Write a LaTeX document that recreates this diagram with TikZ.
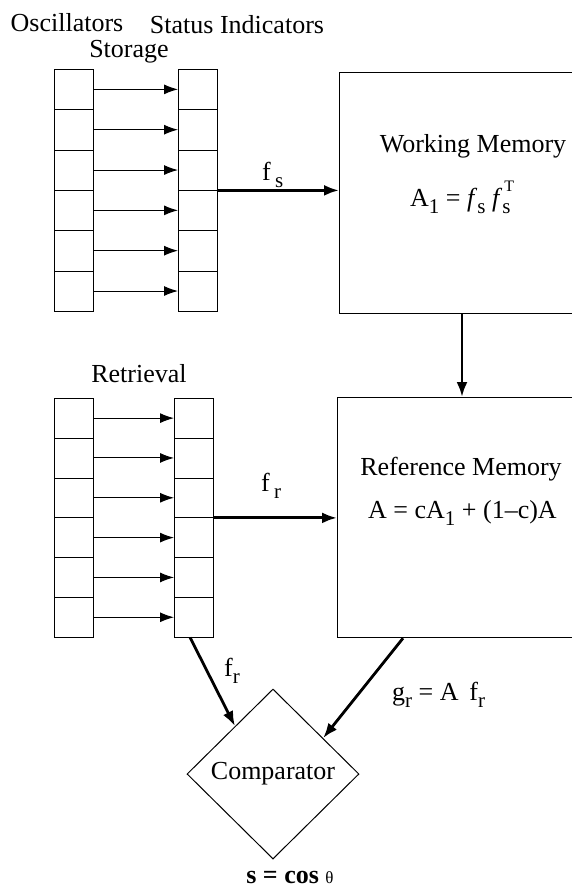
\documentclass[tikz,border=0pt]{standalone}
\usepackage{fontspec}
\setmainfont{Liberation Serif}
\usetikzlibrary{shapes.geometric,arrows.meta,calc}
\newcommand\lo[1]{\raisebox{-0.65ex}{\fontsize{21}{21}\selectfont #1}}
\newcommand\hi[1]{\raisebox{1.2ex}{\fontsize{16}{16}\selectfont #1}}
\begin{document}
\begin{tikzpicture}[x=1pt,y=-1pt,
  lbl/.style={font=\fontsize{26}{30}\selectfont, inner sep=0},
  cell/.style={draw=none, minimum width=39pt, inner sep=0, anchor=north west},
  thinarr/.style={line width=1pt, -{Latex[length=14pt,width=10pt]}},
  thickarr/.style={line width=2.8pt, -{Latex[length=15pt,width=11pt]}},
  colline/.style={line width=1pt},
  mem/.style={draw, line width=1.2pt, anchor=north west, inner sep=0}]
\useasboundingbox (0,0) rectangle (572,889);
\clip (0,0) rectangle (572,889);

% top columns
\foreach \i in {1,...,6} {
  \node[cell, minimum height=40.33pt] (os\i) at (54,{69+(\i-1)*40.33}) {};
  \node[cell, minimum height=40.33pt] (si\i) at (178,{69+(\i-1)*40.33}) {};
  \draw[thinarr] (os\i.east) -- (si\i.west);
}
% bottom columns
\foreach \i in {1,...,6} {
  \node[cell, minimum height=39.83pt] (rs\i) at (54,{398+(\i-1)*39.83}) {};
  \node[cell, minimum height=39.83pt] (ri\i) at (174,{398+(\i-1)*39.83}) {};
  \draw[thinarr] (rs\i.east) -- (ri\i.west);
}
\foreach \c in {os,si,rs,ri} {
  \draw[colline] (\c1.north west) rectangle (\c6.south east);
  \foreach \i in {1,...,5} { \draw[colline] (\c\i.south west) -- (\c\i.south east); }
}

% labels
\node[lbl, anchor=base] (losc) at (67,31) {Oscillators};
\node[lbl, anchor=base] (lstat) at (237,33) {Status Indicators};
\node[lbl, anchor=base] (lstor) at (129,57) {Storage};
\node[lbl, anchor=base] (lret) at (139,382) {Retrieval};

% memory boxes
\node[mem, minimum width=261pt, minimum height=241pt] (wm) at (339,72) {};
\node[mem, minimum width=263pt, minimum height=240pt] (rm) at (337,397) {};
\node[lbl, anchor=base] (wmt) at (473,152) {Working Memory};
\node[lbl, anchor=base west] (wmf) at (410,206) {A\lo{1} = \textit{f}\lo{s} \textit{f}\makebox[0pt][l]{\lo{s}}\hspace{2pt}\hi{T}};
\node[lbl, anchor=base] (rmt) at (461,475) {Reference Memory};
\node[lbl, anchor=base west] (rmf) at (368,518) {A = cA\lo{1} + (1–c)A};

% connectors
\draw[thickarr] (si3.south east) -- (si3.south east -| wm.west);
\node[lbl, anchor=base west] (lfs) at (262,180) {f\,\lo{s}};
\draw[thickarr] (ri3.south east) -- (ri3.south east -| rm.west);
\node[lbl, anchor=base west] (lfr) at (261,491) {f\,\lo{r}};
\draw[thickarr] ($(wm.south west)+(123,0)$) -- ($(rm.north west)+(125,0)$);

% comparator
\node[draw, diamond, aspect=1, minimum width=172pt, minimum height=170pt, inner sep=0,
      line width=1pt, font=\fontsize{26}{30}\selectfont] (cmp) at (273,774) {Comparator};
\draw[thickarr] ($(ri6.south west)+(16,0)$) -- ($(cmp.west)!0.56!(cmp.north)$);
\draw[thickarr] ($(rm.south west)+(66,0)$) -- ($(cmp.north)!0.58!(cmp.east)$);
\node[lbl, anchor=base west] (lfr2) at (224,676) {f\lo{r}};
\node[lbl, anchor=base west] (lgr) at (392,700) {g\lo{r} = A \,f\lo{r}};
\node[lbl, anchor=base] (ls) at (290,883) {\textbf{s = cos} {\fontsize{17}{17}\selectfont θ}};
\end{tikzpicture}
\end{document}
